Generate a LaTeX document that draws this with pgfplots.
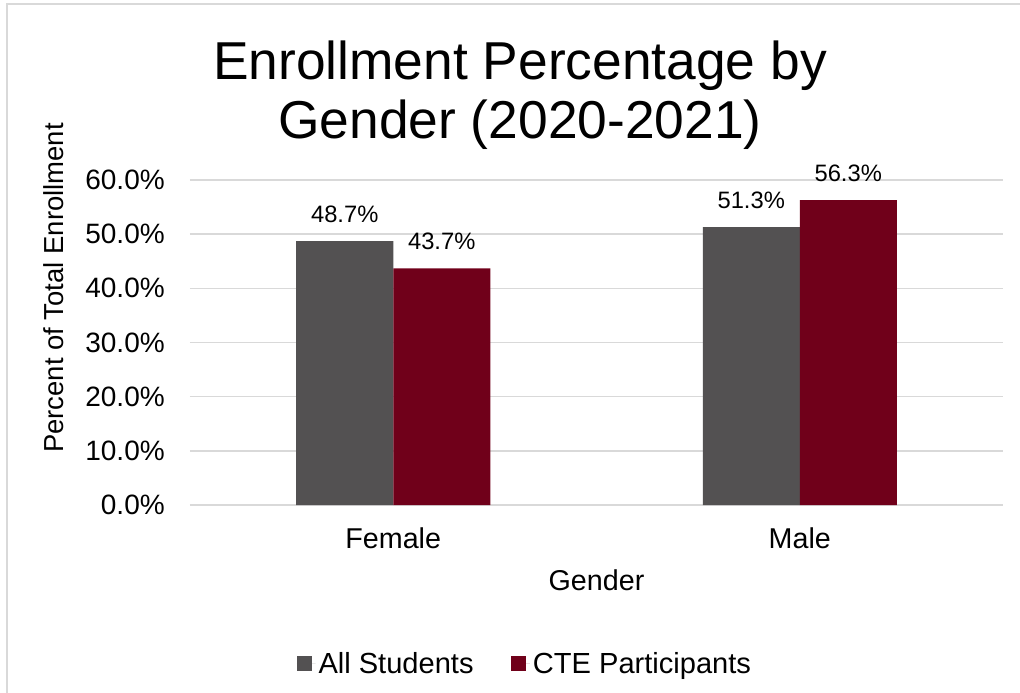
\documentclass[border=0pt]{standalone}
\usepackage{pgfplots}
\pgfplotsset{compat=1.18}
\usepackage{fontspec}
\setmainfont{Liberation Sans}
\definecolor{allgray}{RGB}{83,81,82}
\definecolor{ctered}{RGB}{112,0,26}
\definecolor{gridgray}{RGB}{217,217,217}
\begin{document}
\begin{tikzpicture}
\useasboundingbox (-142.5pt,-140.25pt) rectangle (622.5pt,378.75pt);
\draw[gridgray, line width=1.5pt] (-137.25pt,-141pt) -- (-137.25pt,375.75pt) -- (623pt,375.75pt);
\begin{axis}[
  at={(0pt,0pt)}, anchor=south west, scale only axis,
  width=609.75pt, height=243.75pt,
  clip=false,
  ybar=0pt, bar width=72.75pt,
  xmin=-0.5, xmax=1.5, ymin=0, ymax=60,
  xtick={0,1}, xticklabels={Female,Male},
  ytick={0,10,20,30,40,50,60},
  /pgf/number format/assume math mode=true,
  yticklabel={\pgfmathprintnumber[fixed,fixed zerofill,precision=1,assume math mode=true]{\tick}\%},
  ymajorgrids, grid style={gridgray, line width=1pt},
  axis lines=left, axis line style={-},
  y axis line style={draw=none},
  x axis line style={gridgray, line width=1pt},
  major tick length=0pt, tick style={draw=none},
  yticklabel style={font=\fontsize{21}{25}\selectfont, anchor=east, inner sep=0pt, xshift=-18.75pt},
  xticklabel style={font=\fontsize{21.5}{25}\selectfont, anchor=north, inner sep=0pt, yshift=-17pt},
  xlabel={Gender},
  xlabel style={font=\fontsize{21.5}{25}\selectfont, at={(axis description cs:0.5,0)}, anchor=base, inner sep=0pt, yshift=-63.75pt},
  ylabel={Percent of Total Enrollment},
  ylabel style={font=\fontsize{20.6}{25}\selectfont, at={(axis description cs:-0.168,0.6677)}, anchor=center, rotate=0, inner sep=0pt},
  title={Enrollment Percentage by\\Gender (2020-2021)},
  title style={font=\fontsize{40}{44.25}\selectfont, align=center, at={(axis description cs:0.4059,1.4029)}, anchor=north, inner sep=0pt},
  nodes near coords={\pgfmathprintnumber[fixed,fixed zerofill,precision=1,assume math mode=true]{\pgfplotspointmeta}\%},
  nodes near coords style={font=\fontsize{17.8}{21}\selectfont, anchor=south, inner sep=0pt, yshift=13.8pt, text=black},
  legend columns=2,
  legend image code/.code={\fill[#1] (0pt,-5.6pt) rectangle (11.25pt,5.6pt); \path (0pt,0pt) -- (14pt,0pt);},
  legend style={at={(axis description cs:0.4126,-0.4878)}, anchor=center, draw=none, fill=none,
    font=\fontsize{21.8}{25}\selectfont,
    nodes={inner xsep=2.25pt, inner ysep=0pt},
    /tikz/every even column/.append style={column sep=26pt}},
]
\addplot[fill=allgray, draw=none] coordinates {(0,48.7) (1,51.3)};
\addplot[fill=ctered, draw=none] coordinates {(0,43.7) (1,56.3)};
\legend{All Students, CTE Participants}
\end{axis}
\end{tikzpicture}
\end{document}
